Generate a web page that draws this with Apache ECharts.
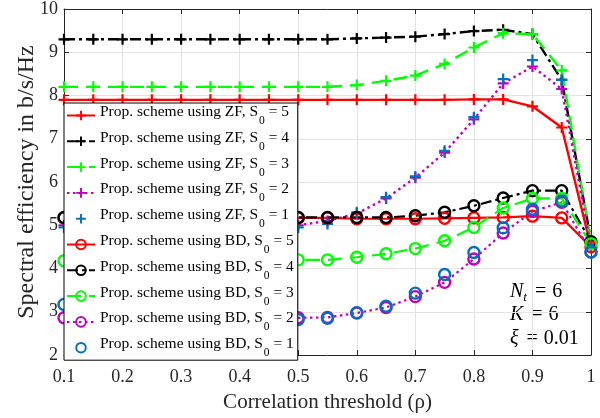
<!DOCTYPE html>
<html><head><meta charset="utf-8">
<script src="https://cdn.jsdelivr.net/npm/echarts@6/dist/echarts.min.js"></script>
<style>html,body{margin:0;padding:0;background:#fff}#c{width:600px;height:418px}</style>
</head><body><div id="c"></div>
<script>
const rho = [0.1,0.15,0.2,0.25,0.3,0.35,0.4,0.45,0.5,0.55,0.6,0.65,0.7,0.75,0.8,0.85,0.9,0.95,1.0];
const xTicks = [0.1,0.2,0.3,0.4,0.5,0.6,0.7,0.8,0.9,1];
const yTicks = [2,3,4,5,6,7,8,9,10];
const zfS5 = [7.9,7.9,7.9,7.9,7.9,7.9,7.9,7.9,7.9,7.9,7.9,7.9,7.9,7.9,7.91,7.91,7.75,7.26,4.5];
const zfS4 = [9.3,9.3,9.3,9.3,9.3,9.3,9.3,9.3,9.3,9.3,9.32,9.34,9.36,9.42,9.49,9.52,9.42,8.36,4.65];
const zfS3 = [8.2,8.2,8.2,8.2,8.2,8.2,8.2,8.2,8.2,8.2,8.24,8.34,8.46,8.73,9.11,9.44,9.42,8.58,4.6];
const zfS2 = [5.0,5.0,5.0,5.0,5.0,5.0,5.0,5.0,5.0,5.1,5.27,5.62,6.1,6.68,7.45,8.28,8.67,8.15,4.5];
const zfS1 = [4.95,4.95,4.95,4.95,4.95,4.95,4.95,4.95,4.95,5.03,5.3,5.65,6.13,6.72,7.5,8.38,8.82,8.36,4.55];
const bdS5 = [5.17,5.17,5.17,5.17,5.17,5.17,5.17,5.17,5.17,5.17,5.15,5.15,5.15,5.16,5.17,5.18,5.21,5.17,4.5];
const bdS4 = [5.18,5.18,5.18,5.18,5.18,5.18,5.18,5.18,5.18,5.18,5.18,5.18,5.22,5.3,5.45,5.63,5.8,5.8,4.62];
const bdS3 = [4.18,4.18,4.18,4.18,4.18,4.18,4.18,4.18,4.2,4.2,4.26,4.34,4.46,4.64,4.95,5.4,5.62,5.62,4.57];
const bdS2 = [2.86,2.86,2.86,2.86,2.86,2.86,2.86,2.86,2.86,2.87,2.97,3.1,3.35,3.68,4.22,4.82,5.32,5.53,4.38];
const bdS1 = [3.17,3.1,3.05,3.0,2.96,2.92,2.88,2.85,2.82,2.85,2.98,3.13,3.43,3.86,4.37,4.94,5.37,5.56,4.38];
const names = ['ZF5','ZF4','ZF3','ZF2','ZF1','BD5','BD4','BD3','BD2','BD1'];
const legendText = {
  ZF5:['ZF','5'],ZF4:['ZF','4'],ZF3:['ZF','3'],ZF2:['ZF','2'],ZF1:['ZF','1'],
  BD5:['BD','5'],BD4:['BD','4'],BD3:['BD','3'],BD2:['BD','2'],BD1:['BD','1']
};

const SERIF = '"Liberation Serif","Times New Roman",serif';
const PLUS = 'path://M-0.2,-1L0.2,-1L0.2,-0.2L1,-0.2L1,0.2L0.2,0.2L0.2,1L-0.2,1L-0.2,0.2L-1,0.2L-1,-0.2L-0.2,-0.2Z';
const RED='#ff0000', BLK='#000000', GRN='#00ff00', MAG='#bf00bf', BLU='#0072bd';
const DASHDOT=[11,4,3,4], DASH=[14,8], DOT=[2.5,3.5];

function pair(ys){ return rho.map((x,i)=>[x,ys[i]]); }
function plusSeries(name, ys, color, type, showLine){
  return {name, type:'line', data:pair(ys), symbol:PLUS, symbolSize:11,
    itemStyle:{color, borderWidth:0},
    lineStyle:{color, width:2.4, type, opacity: showLine?1:0},
    emphasis:{disabled:true}, animation:false};
}
function circSeries(name, ys, color, type, showLine){
  return {name, type:'line', data:pair(ys), symbol:'circle', symbolSize:11,
    itemStyle:{color:'rgba(255,255,255,0)', borderColor:color, borderWidth:2.4},
    lineStyle:{color, width:2.2, type, opacity: showLine?1:0},
    emphasis:{disabled:true}, animation:false};
}
const series = [
  plusSeries('ZF5', zfS5, RED, 'solid', true),
  plusSeries('ZF4', zfS4, BLK, DASHDOT, true),
  plusSeries('ZF3', zfS3, GRN, DASH, true),
  plusSeries('ZF2', zfS2, MAG, DOT, true),
  plusSeries('ZF1', zfS1, BLU, 'solid', false),
  circSeries('BD5', bdS5, RED, 'solid', true),
  circSeries('BD4', bdS4, BLK, DASHDOT, true),
  circSeries('BD3', bdS3, GRN, DASH, true),
  circSeries('BD2', bdS2, MAG, DOT, true),
  circSeries('BD1', bdS1, BLU, 'solid', false)
];

const axisCol = '#262626';
const mathRich = {
  i:{fontFamily:SERIF, fontStyle:'italic', fontSize:20, verticalAlign:'top', lineHeight:21},
  t:{fontFamily:SERIF, fontStyle:'italic', fontSize:13, verticalAlign:'top', lineHeight:13, padding:[9,0,0,0]},
  e:{fontFamily:SERIF, fontSize:20, verticalAlign:'top', lineHeight:21, padding:[0,6,0,8]},
  r:{fontFamily:SERIF, fontSize:20, verticalAlign:'top', lineHeight:21}
};
const chart = echarts.init(document.getElementById('c'), null, {renderer:'canvas'});
chart.setOption({
  backgroundColor:'#fff',
  animation:false,
  grid:{left:64, right:9, top:9, bottom:62, show:false},
  xAxis:[{
    type:'value', min:0.1, max:1, interval:0.1,
    name:'Correlation threshold (ρ)', nameLocation:'middle', nameGap:37, nameMoveOverlap:false,
    nameTextStyle:{fontFamily:SERIF, fontSize:21, color:axisCol},
    axisLine:{show:true, onZero:false, lineStyle:{color:axisCol, width:1}},
    axisTick:{show:true, inside:true, length:5, lineStyle:{color:axisCol}},
    axisLabel:{fontFamily:SERIF, fontSize:18, color:axisCol, margin:13,
      formatter:v=>{ const t = xTicks.find(k=>Math.abs(k-v)<1e-6); return t===undefined?'':String(t);} },
    splitLine:{show:true, lineStyle:{color:'#e3e3e3', width:1}}
  },{
    type:'value', position:'top', min:0.1, max:1, interval:0.1,
    axisLine:{show:true, onZero:false, lineStyle:{color:axisCol, width:1}},
    axisTick:{show:true, inside:true, length:5, lineStyle:{color:axisCol}},
    axisLabel:{show:false}, splitLine:{show:false}
  }],
  yAxis:[{
    type:'value', min:2, max:10, interval:1,
    name:'Spectral efficiency in b/s/Hz', nameLocation:'middle', nameGap:25, nameRotate:90, nameMoveOverlap:false,
    nameTextStyle:{fontFamily:SERIF, fontSize:24, color:axisCol},
    axisLine:{show:true, onZero:false, lineStyle:{color:axisCol, width:1}},
    axisTick:{show:true, inside:true, length:5, lineStyle:{color:axisCol}},
    axisLabel:{fontFamily:SERIF, fontSize:18, color:axisCol, margin:6,
      formatter:v=>yTicks.includes(v)?String(v):''},
    splitLine:{show:true, lineStyle:{color:'#e3e3e3', width:1}}
  },{
    type:'value', position:'right', min:2, max:10, interval:1,
    axisLine:{show:true, onZero:false, lineStyle:{color:axisCol, width:1}},
    axisTick:{show:true, inside:true, length:5, lineStyle:{color:axisCol}},
    axisLabel:{show:false}, splitLine:{show:false}
  }],
  legend:{
    orient:'vertical', left:64, top:103, width:233,
    backgroundColor:'#fff', borderColor:'#000', borderWidth:1,
    padding:[1,4,1,2], itemGap:2.8, itemWidth:28, itemHeight:12,
    data:names, selectedMode:false,
    formatter:n=>`{a|Prop. scheme using ${legendText[n][0]}, S}{s|0}{a| = ${legendText[n][1]}}`,
    textStyle:{color:'#000', rich:{
      a:{fontFamily:SERIF, fontSize:15.5, lineHeight:18, verticalAlign:'top', color:'#000'},
      s:{fontFamily:SERIF, fontSize:11.5, padding:[11,0,0,1], verticalAlign:'top', color:'#000'}
    }}
  },
  graphic:[
    {type:'text', left:510, top:282, style:{text:'{i|N}{t|t}{e|=}{r|6}', rich:mathRich}},
    {type:'text', left:510, top:305, style:{text:'{i|K}{e|=}{r|6}', rich:mathRich}},
    {type:'text', left:510, top:329, style:{text:'{i|ξ}{e|=}{r|0.01}', rich:mathRich}}
  ],
  series: series
});
</script></body></html>
